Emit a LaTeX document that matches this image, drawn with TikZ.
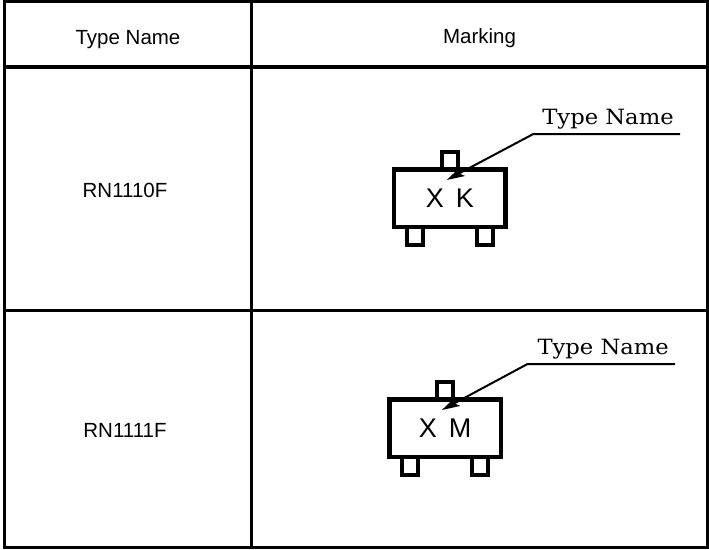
\documentclass[tikz,border=0pt]{standalone}
\usepackage{fontspec}
\newfontfamily\tablefont{Liberation Sans}
\newfontfamily\calloutfont{DejaVu Serif}
\usetikzlibrary{positioning,arrows.meta}

\begin{document}
\begin{tikzpicture}[
    x=1pt, y=-1pt,
    frame/.style={line width=3pt},
    cell/.style={font=\tablefont\fontsize{20.5}{24}\selectfont, inner sep=0pt},
    body/.style={draw, fill=white, line width=4.5pt, minimum width=111.5pt, minimum height=57.3pt, inner sep=0pt, outer sep=0pt, font=\tablefont\fontsize{27}{30}\selectfont},
    pin/.style={draw, line width=4pt, minimum width=15.5pt, minimum height=18pt, inner sep=0pt, outer sep=0pt},
    callout/.style={font=\calloutfont\fontsize{21}{24}\selectfont, inner sep=0pt, anchor=base},
    leader/.style={line width=2pt, -{Stealth[length=18pt, width=10pt, inset=4pt]}}
]
    \useasboundingbox (0,0) rectangle (709,549);

    % table
    \draw[frame] (4.7,1.5) rectangle (707.7,547);
    \draw[line width=4pt] (4.7,67) -- (707.7,67);
    \draw[frame] (4.7,310) -- (707.7,310);
    \draw[frame] (251,1.5) -- (251,547);

    \node[cell, anchor=base] (headtype) at (128,44) {Type Name};
    \node[cell, anchor=base] (headmark) at (479.5,43.5) {Marking};
    \node[cell] (type1) at (125,190) {RN1110F};
    \node[cell] (type2) at (125,430) {RN1111F};

    % RN1110F package
    \node[body] (body1) at (449.9,198.3) {\raisebox{-3pt}{X\hspace{0.45em}K}};
    \node[pin, above=0pt of body1] (pint1) {};
    \node[pin, anchor=north] (pinl1) at ([xshift=-35pt]body1.south) {};
    \node[pin, anchor=north] (pinr1) at ([xshift=35pt]body1.south) {};
    \node[callout] (lbl1) at (608,124.3) {\scalebox{1.08}[1]{Type Name}};
    \coordinate (ull1) at (533.3,134);
    \coordinate (ulr1) at (680,134);
    \coordinate (tip1) at (446.7,180);
    \draw[leader] (ulr1) -- (ull1) -- (tip1);

    % RN1111F package
    \node[body] (body2) at (445.1,428.3) {\raisebox{-3pt}{X\hspace{0.45em}M}};
    \node[pin, above=0pt of body2] (pint2) {};
    \node[pin, anchor=north] (pinl2) at ([xshift=-35pt]body2.south) {};
    \node[pin, anchor=north] (pinr2) at ([xshift=35pt]body2.south) {};
    \node[callout] (lbl2) at (603.2,354.3) {\scalebox{1.08}[1]{Type Name}};
    \coordinate (ull2) at (527.5,364);
    \coordinate (ulr2) at (675.2,364);
    \coordinate (tip2) at (441.9,410);
    \draw[leader] (ulr2) -- (ull2) -- (tip2);
\end{tikzpicture}
\end{document}
